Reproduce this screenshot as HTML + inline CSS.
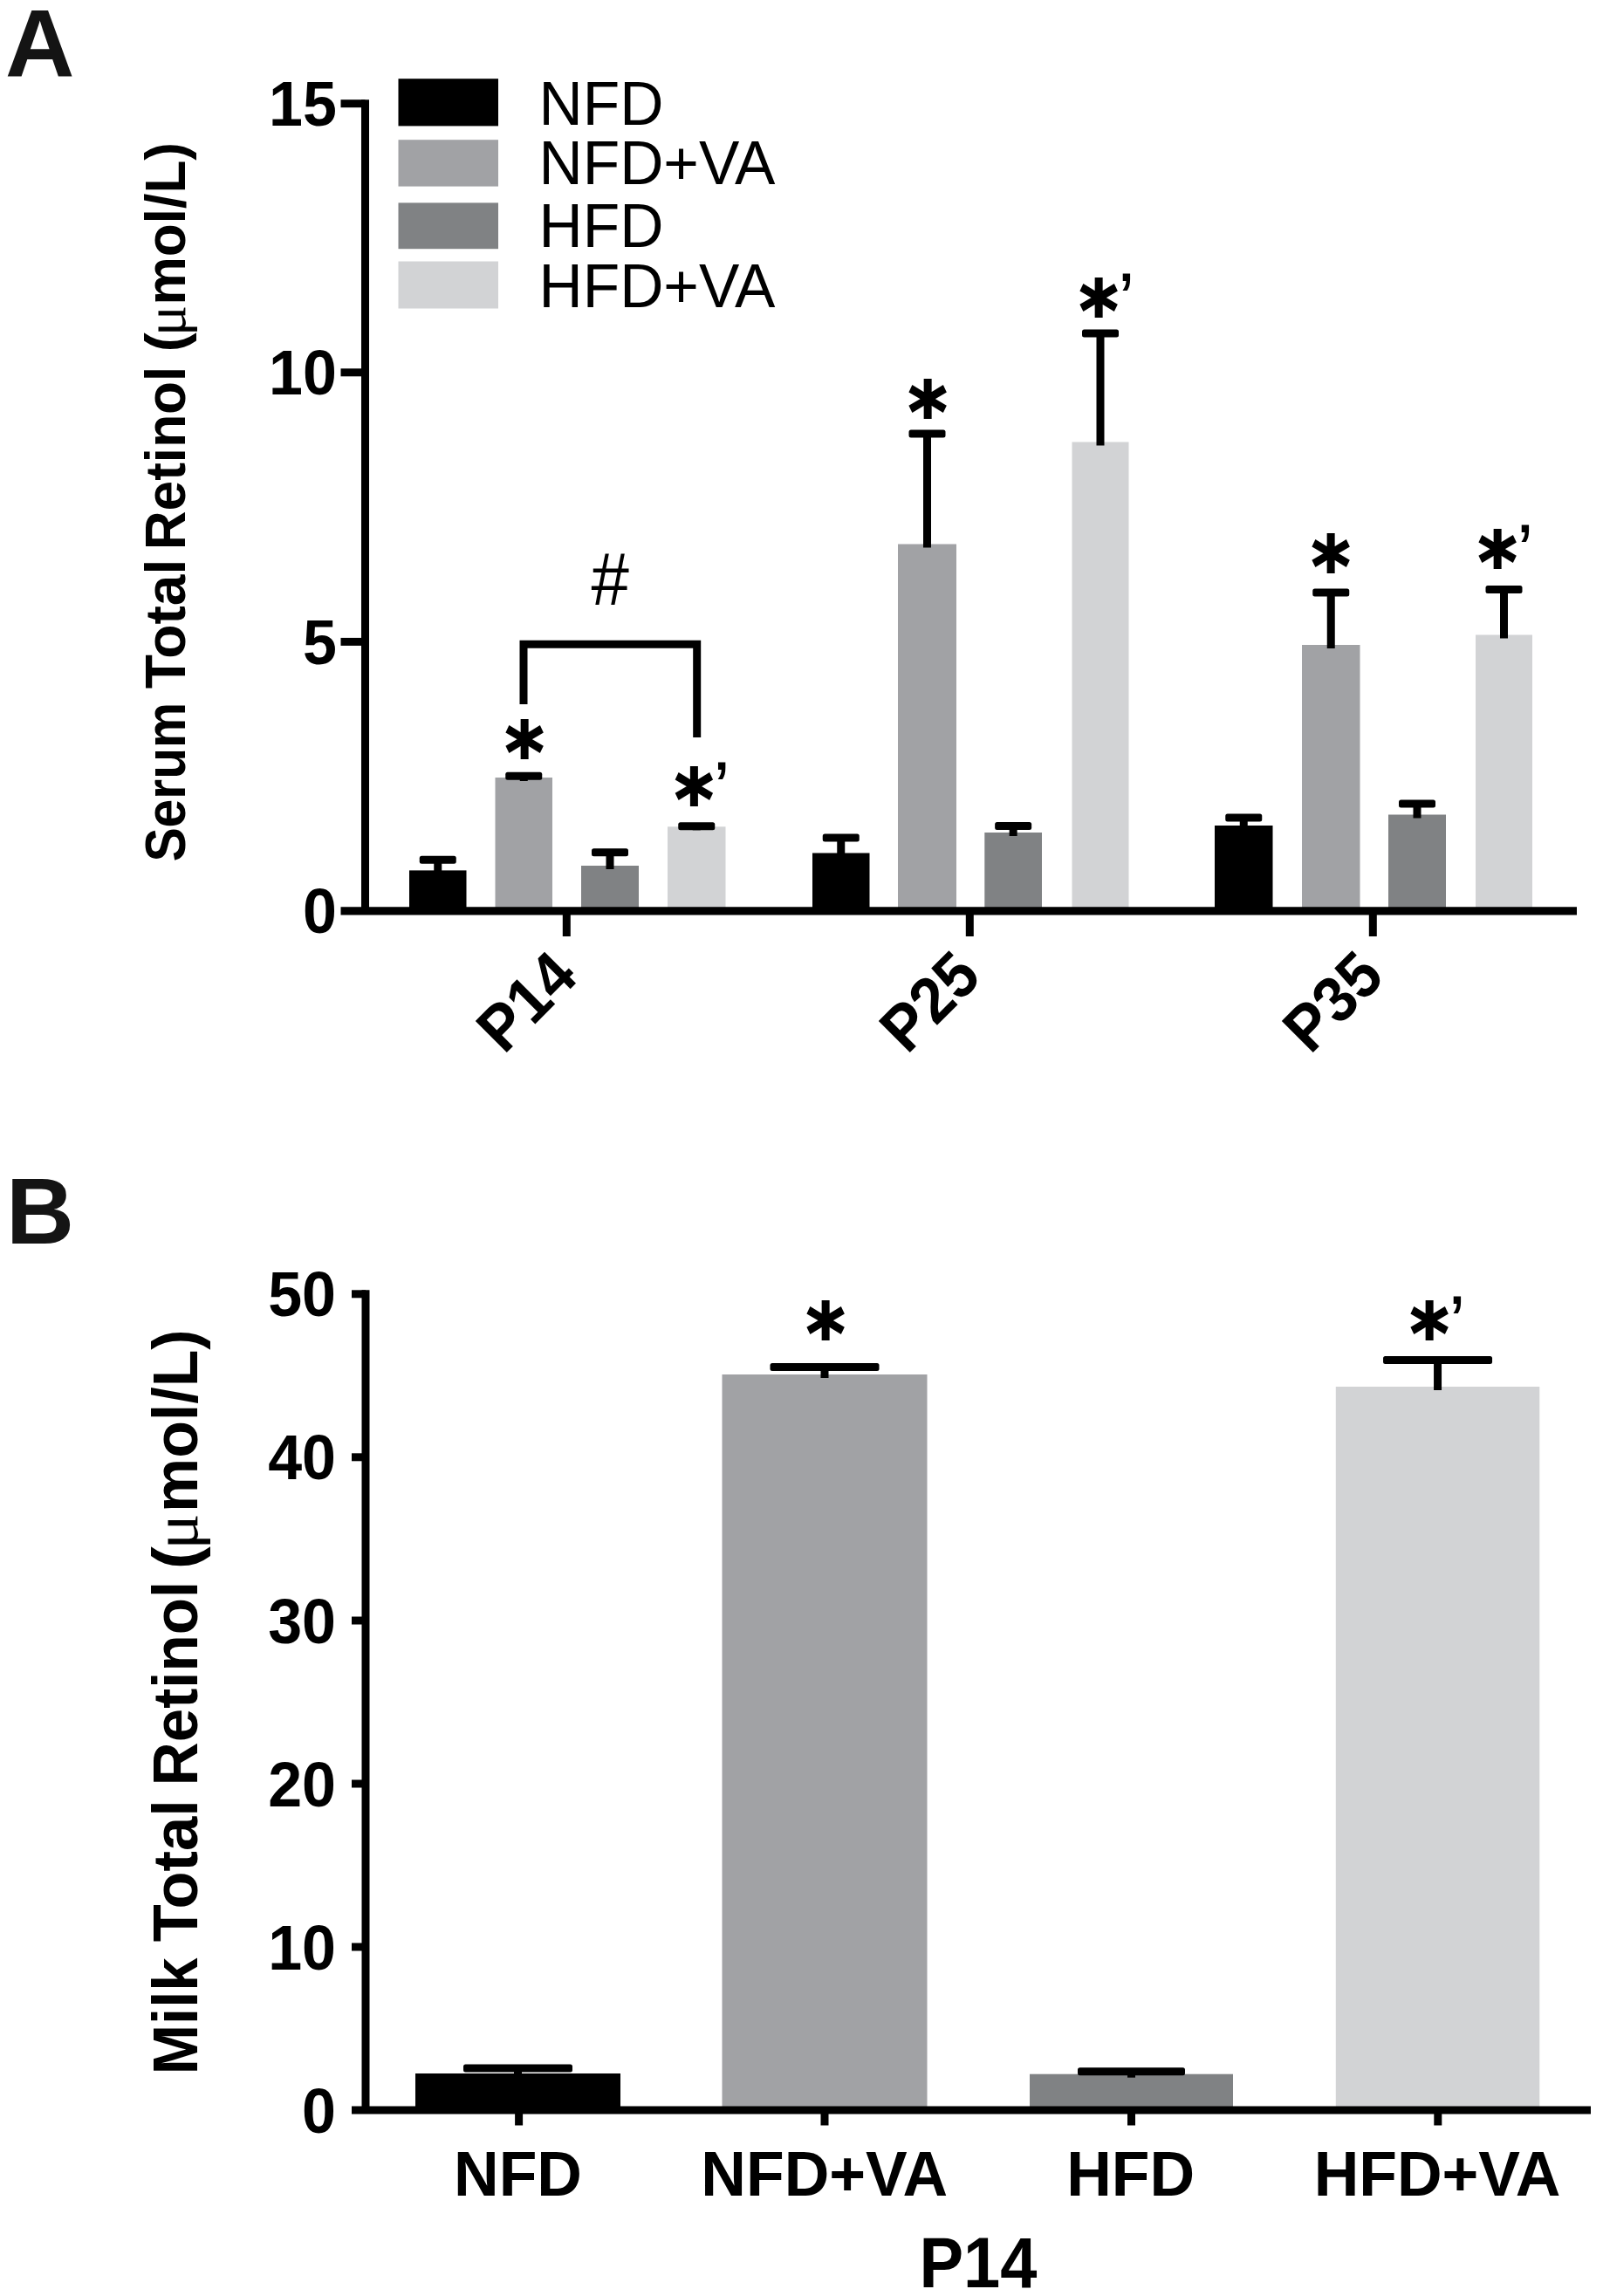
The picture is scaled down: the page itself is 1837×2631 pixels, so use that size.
<!DOCTYPE html>
<html lang="en"><head><meta charset="utf-8"><title>Serum and Milk Total Retinol</title>
<style>html,body{margin:0;padding:0;background:#fff}svg{display:block}.b{font-family:"Liberation Sans",Arial,Helvetica,sans-serif;font-weight:bold;fill:#000}.r{font-family:"Liberation Sans",Arial,Helvetica,sans-serif;font-weight:normal;fill:#000}.ast{font-family:"DejaVu Sans Condensed","DejaVu Sans",sans-serif;font-weight:bold;fill:#000;stroke:#000;stroke-width:2px;stroke-linejoin:miter}</style></head><body>
<svg width="1837" height="2631" viewBox="0 0 1837 2631">
<rect width="1837" height="2631" fill="#fff"/>
<g id="panel-a" aria-label="Panel A: Serum Total Retinol">
<text class="b" x="6" y="86.5" font-size="110" text-anchor="start" style="fill:#141414">A</text>
<rect x="469" y="997.4" width="65.5" height="46.4" fill="#000000"/>
<rect x="567.5" y="891" width="65.5" height="152.8" fill="#a1a2a5"/>
<rect x="666" y="992" width="66" height="51.8" fill="#808284"/>
<rect x="765" y="947.3" width="66.5" height="96.5" fill="#d2d3d5"/>
<rect x="931" y="977.5" width="65.5" height="66.3" fill="#000000"/>
<rect x="1029" y="623.5" width="67" height="420.3" fill="#a1a2a5"/>
<rect x="1128.3" y="954" width="65.7" height="89.8" fill="#808284"/>
<rect x="1228.5" y="506.5" width="65.0" height="537.3" fill="#d2d3d5"/>
<rect x="1392" y="946" width="66.5" height="97.8" fill="#000000"/>
<rect x="1492" y="739" width="66.5" height="304.8" fill="#a1a2a5"/>
<rect x="1591" y="933.5" width="66" height="110.3" fill="#808284"/>
<rect x="1691" y="727.5" width="65" height="316.3" fill="#d2d3d5"/>
<line x1="501.75" y1="985.2" x2="501.75" y2="1001.4" stroke="#000" stroke-width="9" stroke-linecap="butt"/>
<rect x="480.75" y="980.7" width="42" height="9" rx="2.5" fill="#000"/>
<line x1="600.25" y1="889.3" x2="600.25" y2="895" stroke="#000" stroke-width="9" stroke-linecap="butt"/>
<rect x="579.25" y="884.8" width="42" height="9" rx="2.5" fill="#000"/>
<line x1="699.0" y1="976.7" x2="699.0" y2="996" stroke="#000" stroke-width="9" stroke-linecap="butt"/>
<rect x="678.0" y="972.2" width="42" height="9" rx="2.5" fill="#000"/>
<line x1="798.25" y1="946.8" x2="798.25" y2="951.3" stroke="#000" stroke-width="9" stroke-linecap="butt"/>
<rect x="777.25" y="942.3" width="42" height="9" rx="2.5" fill="#000"/>
<line x1="963.75" y1="960" x2="963.75" y2="981.5" stroke="#000" stroke-width="9" stroke-linecap="butt"/>
<rect x="942.75" y="955.5" width="42" height="9" rx="2.5" fill="#000"/>
<line x1="1062.5" y1="497" x2="1062.5" y2="627.5" stroke="#000" stroke-width="9" stroke-linecap="butt"/>
<rect x="1041.5" y="492.5" width="42" height="9" rx="2.5" fill="#000"/>
<line x1="1161.15" y1="946.5" x2="1161.15" y2="958" stroke="#000" stroke-width="9" stroke-linecap="butt"/>
<rect x="1140.15" y="942.0" width="42" height="9" rx="2.5" fill="#000"/>
<line x1="1261.0" y1="382" x2="1261.0" y2="510.5" stroke="#000" stroke-width="9" stroke-linecap="butt"/>
<rect x="1240.0" y="377.5" width="42" height="9" rx="2.5" fill="#000"/>
<line x1="1425.25" y1="937" x2="1425.25" y2="950" stroke="#000" stroke-width="9" stroke-linecap="butt"/>
<rect x="1404.25" y="932.5" width="42" height="9" rx="2.5" fill="#000"/>
<line x1="1525.25" y1="679" x2="1525.25" y2="743" stroke="#000" stroke-width="9" stroke-linecap="butt"/>
<rect x="1504.25" y="674.5" width="42" height="9" rx="2.5" fill="#000"/>
<line x1="1624.0" y1="921" x2="1624.0" y2="937.5" stroke="#000" stroke-width="9" stroke-linecap="butt"/>
<rect x="1603.0" y="916.5" width="42" height="9" rx="2.5" fill="#000"/>
<line x1="1723.5" y1="675.5" x2="1723.5" y2="731.5" stroke="#000" stroke-width="9" stroke-linecap="butt"/>
<rect x="1702.5" y="671.0" width="42" height="9" rx="2.5" fill="#000"/>
<line x1="418.5" y1="114.2" x2="418.5" y2="1043.8" stroke="#000" stroke-width="9" stroke-linecap="butt"/>
<line x1="390.5" y1="118.7" x2="418.5" y2="118.7" stroke="#000" stroke-width="9" stroke-linecap="butt"/>
<line x1="390.5" y1="426.8" x2="418.5" y2="426.8" stroke="#000" stroke-width="9" stroke-linecap="butt"/>
<line x1="390.5" y1="735.4" x2="418.5" y2="735.4" stroke="#000" stroke-width="9" stroke-linecap="butt"/>
<line x1="390.5" y1="1043.8" x2="1807" y2="1043.8" stroke="#000" stroke-width="9.2" stroke-linecap="butt"/>
<line x1="649.3" y1="1043.8" x2="649.3" y2="1073" stroke="#000" stroke-width="9" stroke-linecap="butt"/>
<line x1="1111.3" y1="1043.8" x2="1111.3" y2="1073" stroke="#000" stroke-width="9" stroke-linecap="butt"/>
<line x1="1573.3" y1="1043.8" x2="1573.3" y2="1073" stroke="#000" stroke-width="9" stroke-linecap="butt"/>
<text class="b" x="385.8" y="144.1" font-size="72" text-anchor="end" textLength="77.8" lengthAdjust="spacingAndGlyphs">15</text>
<text class="b" x="385.8" y="452.2" font-size="72" text-anchor="end" textLength="77.8" lengthAdjust="spacingAndGlyphs">10</text>
<text class="b" x="385.8" y="760.8" font-size="72" text-anchor="end" textLength="38.9" lengthAdjust="spacingAndGlyphs">5</text>
<text class="b" x="385.8" y="1069.2" font-size="72" text-anchor="end" textLength="38.9" lengthAdjust="spacingAndGlyphs">0</text>
<rect x="456.5" y="90.2" width="114.5" height="54.2" fill="#000000"/>
<rect x="456.5" y="160.2" width="114.5" height="53.4" fill="#a1a2a5"/>
<rect x="456.5" y="232.4" width="114.5" height="52.8" fill="#808284"/>
<rect x="456.5" y="299.5" width="114.5" height="54.0" fill="#d2d3d5"/>
<text class="r" x="617.5" y="142.8" font-size="69.5" text-anchor="start" >NFD</text>
<text class="r" x="617.5" y="210.7" font-size="69.5" text-anchor="start" >NFD+VA</text>
<text class="r" x="617.5" y="283.2" font-size="69.5" text-anchor="start" >HFD</text>
<text class="r" x="617.5" y="351.5" font-size="69.5" text-anchor="start" >HFD+VA</text>
<polyline points="600,807 600,738.2 798.7,738.2 798.7,845" fill="none" stroke="#000" stroke-width="9" stroke-linejoin="miter"/>
<text class="r" x="699.3" y="692.8" font-size="85" text-anchor="middle" textLength="43.4" lengthAdjust="spacingAndGlyphs">#</text>
<text class="ast" x="601" y="894.8" font-size="94" text-anchor="middle">*</text>
<text class="ast" x="795.3" y="948.8" font-size="94" text-anchor="middle">*<tspan class="r" x="817.3" y="934" font-size="88" stroke="none" text-anchor="start">’</tspan></text>
<text class="ast" x="1063" y="504.8" font-size="94" text-anchor="middle">*</text>
<text class="ast" x="1259" y="388.8" font-size="94" text-anchor="middle">*<tspan class="r" x="1281" y="374" font-size="88" stroke="none" text-anchor="start">’</tspan></text>
<text class="ast" x="1525" y="681.8" font-size="94" text-anchor="middle">*</text>
<text class="ast" x="1716" y="676.8" font-size="94" text-anchor="middle">*<tspan class="r" x="1738" y="662" font-size="88" stroke="none" text-anchor="start">’</tspan></text>
<text class="b" font-size="74" text-anchor="end" textLength="123.5" lengthAdjust="spacingAndGlyphs" transform="translate(664.8,1122) rotate(-45)">P14</text>
<text class="b" font-size="74" text-anchor="end" textLength="123.5" lengthAdjust="spacingAndGlyphs" transform="translate(1126.8,1122) rotate(-45)">P25</text>
<text class="b" font-size="74" text-anchor="end" textLength="123.5" lengthAdjust="spacingAndGlyphs" transform="translate(1588.8,1122) rotate(-45)">P35</text>
<text class="b" font-size="65.5" transform="translate(212,0) rotate(-90)"><tspan x="-987.59" textLength="182.88" lengthAdjust="spacingAndGlyphs">Serum</tspan> <tspan x="-789.13" textLength="148.44" lengthAdjust="spacingAndGlyphs">Total</tspan> <tspan x="-630.37" textLength="210.75" lengthAdjust="spacingAndGlyphs">Retinol</tspan> <tspan x="-403.27" textLength="21.93" lengthAdjust="spacingAndGlyphs">(</tspan><tspan x="-385.32" textLength="35.57" lengthAdjust="spacingAndGlyphs" style="font-family:'Liberation Serif',serif;font-weight:normal">μ</tspan><tspan x="-349.43" textLength="186.49" lengthAdjust="spacingAndGlyphs">mol/L)</tspan></text>
</g>
<g id="panel-b" aria-label="Panel B: Milk Total Retinol">
<text class="b" x="7" y="1424.5" font-size="108" text-anchor="start" style="fill:#141414">B</text>
<rect x="476" y="2376" width="235" height="42" fill="#000000"/>
<rect x="827.5" y="1575" width="235.0" height="843" fill="#a1a2a5"/>
<rect x="1180" y="2376.7" width="233" height="41.3" fill="#808284"/>
<rect x="1530.8" y="1589" width="233.5" height="829" fill="#d2d3d5"/>
<line x1="593.5" y1="2370" x2="593.5" y2="2380" stroke="#000" stroke-width="9" stroke-linecap="butt"/>
<rect x="531.0" y="2365.5" width="125.0" height="9" rx="2.5" fill="#000"/>
<line x1="945.0" y1="1566.5" x2="945.0" y2="1579" stroke="#000" stroke-width="9" stroke-linecap="butt"/>
<rect x="882.5" y="1562.0" width="125.0" height="9" rx="2.5" fill="#000"/>
<line x1="1296.5" y1="2373.8" x2="1296.5" y2="2380.7" stroke="#000" stroke-width="9" stroke-linecap="butt"/>
<rect x="1235.0" y="2369.3" width="123.0" height="9" rx="2.5" fill="#000"/>
<line x1="1647.55" y1="1558.5" x2="1647.55" y2="1593" stroke="#000" stroke-width="9" stroke-linecap="butt"/>
<rect x="1585.05" y="1554.0" width="125.0" height="9" rx="2.5" fill="#000"/>
<line x1="419" y1="1478.3" x2="419" y2="2418" stroke="#000" stroke-width="9" stroke-linecap="butt"/>
<line x1="403" y1="1482.8" x2="419" y2="1482.8" stroke="#000" stroke-width="9" stroke-linecap="butt"/>
<line x1="403" y1="1669.8" x2="419" y2="1669.8" stroke="#000" stroke-width="9" stroke-linecap="butt"/>
<line x1="403" y1="1857" x2="419" y2="1857" stroke="#000" stroke-width="9" stroke-linecap="butt"/>
<line x1="403" y1="2044" x2="419" y2="2044" stroke="#000" stroke-width="9" stroke-linecap="butt"/>
<line x1="403" y1="2231" x2="419" y2="2231" stroke="#000" stroke-width="9" stroke-linecap="butt"/>
<line x1="403" y1="2418" x2="1823" y2="2418" stroke="#000" stroke-width="9.2" stroke-linecap="butt"/>
<line x1="594.6" y1="2418" x2="594.6" y2="2435.5" stroke="#000" stroke-width="9" stroke-linecap="butt"/>
<line x1="945" y1="2418" x2="945" y2="2435.5" stroke="#000" stroke-width="9" stroke-linecap="butt"/>
<line x1="1296.5" y1="2418" x2="1296.5" y2="2435.5" stroke="#000" stroke-width="9" stroke-linecap="butt"/>
<line x1="1647.8" y1="2418" x2="1647.8" y2="2435.5" stroke="#000" stroke-width="9" stroke-linecap="butt"/>
<text class="b" x="385" y="1508.3999999999999" font-size="72" text-anchor="end" textLength="77.8" lengthAdjust="spacingAndGlyphs">50</text>
<text class="b" x="385" y="1695.3999999999999" font-size="72" text-anchor="end" textLength="77.8" lengthAdjust="spacingAndGlyphs">40</text>
<text class="b" x="385" y="1882.6" font-size="72" text-anchor="end" textLength="77.8" lengthAdjust="spacingAndGlyphs">30</text>
<text class="b" x="385" y="2069.6" font-size="72" text-anchor="end" textLength="77.8" lengthAdjust="spacingAndGlyphs">20</text>
<text class="b" x="385" y="2256.6" font-size="72" text-anchor="end" textLength="77.8" lengthAdjust="spacingAndGlyphs">10</text>
<text class="b" x="385" y="2443.6" font-size="72" text-anchor="end" textLength="38.9" lengthAdjust="spacingAndGlyphs">0</text>
<text class="b" x="593.5" y="2516.3" font-size="71.5" text-anchor="middle" >NFD</text>
<text class="b" x="944.7" y="2516.3" font-size="71.5" text-anchor="middle" >NFD+VA</text>
<text class="b" x="1295.7" y="2516.3" font-size="71.5" text-anchor="middle" >HFD</text>
<text class="b" x="1647" y="2516.3" font-size="71.5" text-anchor="middle" >HFD+VA</text>
<text class="b" x="1121" y="2620.8" font-size="81" text-anchor="middle" textLength="135" lengthAdjust="spacingAndGlyphs">P14</text>
<text class="ast" x="946" y="1560.8" font-size="94" text-anchor="middle">*</text>
<text class="ast" x="1638" y="1560.8" font-size="94" text-anchor="middle">*<tspan class="r" x="1660" y="1546" font-size="88" stroke="none" text-anchor="start">’</tspan></text>
<text class="b" font-size="72" transform="translate(226,0) rotate(-90)"><tspan x="-2377.34" textLength="133.87" lengthAdjust="spacingAndGlyphs">Milk</tspan> <tspan x="-2225.23" textLength="163.06" lengthAdjust="spacingAndGlyphs">Total</tspan> <tspan x="-2046.16" textLength="234.35" lengthAdjust="spacingAndGlyphs">Retinol</tspan> <tspan x="-1798.3" textLength="26.05" lengthAdjust="spacingAndGlyphs">(</tspan><tspan x="-1775.65" textLength="41.3" lengthAdjust="spacingAndGlyphs" style="font-family:'Liberation Serif',serif;font-weight:normal">μ</tspan><tspan x="-1733.01" textLength="209.62" lengthAdjust="spacingAndGlyphs">mol/L)</tspan></text>
</g>
</svg></body></html>
